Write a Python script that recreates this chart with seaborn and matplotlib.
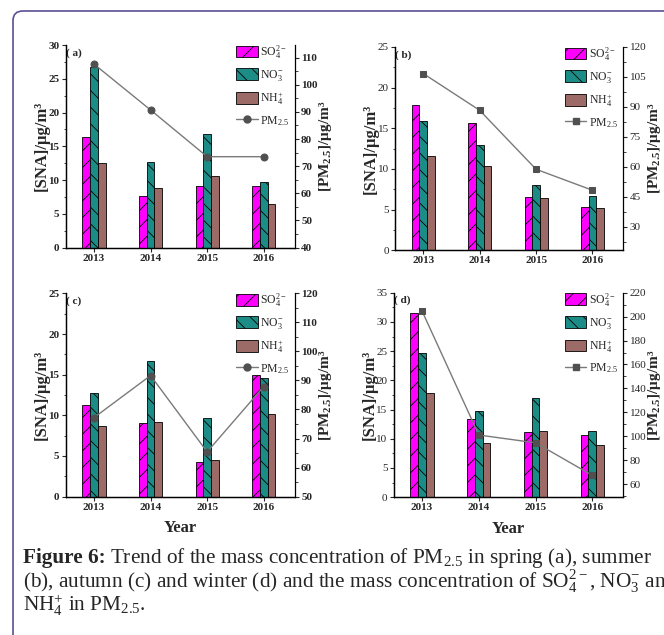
import numpy as np
import pandas as pd
import matplotlib
matplotlib.use("Agg")
import matplotlib.pyplot as plt
import seaborn as sns
from matplotlib.patches import Patch, FancyBboxPatch
from matplotlib.lines import Line2D
from matplotlib.ticker import MultipleLocator

# datos
years = ['2013', '2014', '2015', '2016']
ions = [r'SO$_4^{2-}$', r'NO$_3^{-}$', r'NH$_4^{+}$']
pm_label = r'PM$_{2.5}$'

so4_a = [16.4, 7.7, 9.2, 9.2]
no3_a = [26.8, 12.7, 16.8, 9.7]
nh4_a = [12.6, 8.8, 10.6, 6.5]
pm_a = [107.6, 90.7, 73.5, 73.5]

so4_b = [17.9, 15.6, 6.6, 5.3]
no3_b = [15.9, 13.0, 8.0, 6.7]
nh4_b = [11.6, 10.4, 6.4, 5.2]
pm_b = [106.7, 88.3, 58.8, 48.3]

so4_c = [11.3, 9.1, 4.3, 15.0]
no3_c = [12.8, 16.7, 9.7, 14.6]
nh4_c = [8.7, 9.2, 4.5, 10.2]
pm_c = [77.2, 91.7, 65.4, 87.9]

so4_d = [31.6, 13.4, 11.1, 10.7]
no3_d = [24.6, 14.8, 16.9, 11.3]
nh4_d = [17.9, 9.2, 11.3, 9.0]
pm_d = [204.6, 101.0, 94.5, 67.3]

colors = ['#ff00ff', '#1b8c86', '#9c6b68']
hatches = ['//', '\\\\', '']

sns.set_style('ticks')
plt.rcParams['font.family'] = ['Liberation Serif', 'DejaVu Serif']
plt.rcParams['mathtext.fontset'] = 'custom'
plt.rcParams['mathtext.rm'] = 'Liberation Serif'
plt.rcParams['mathtext.it'] = 'Liberation Serif:italic'
plt.rcParams['mathtext.bf'] = 'Liberation Serif:bold'
plt.rcParams['hatch.linewidth'] = 0.6
plt.rcParams['axes.edgecolor'] = 'black'


def draw_panel(fig, rect, so4, no3, nh4, pm, letter, ylim_l, step_l,
               ylim_r, ticks_r, minor_r, marker, bold_y, xlabel):
    ax = fig.add_axes(rect)
    df = pd.DataFrame({
        'Year': years * 3,
        'SNA': so4 + no3 + nh4,
        'Ion': [ions[0]] * 4 + [ions[1]] * 4 + [ions[2]] * 4,
    })
    sns.barplot(data=df, x='Year', y='SNA', hue='Ion', hue_order=ions,
                palette=colors, saturation=1, width=0.41, edgecolor='black',
                linewidth=0.6, errorbar=None, legend=False, ax=ax)
    for cont, h in zip(ax.containers, hatches):
        for p in cont:
            p.set_hatch(h)
    ax.set_xlim(-0.5, 3.55)
    ax.set_ylim(*ylim_l)
    ax.yaxis.set_major_locator(MultipleLocator(step_l))
    ax.yaxis.set_minor_locator(MultipleLocator(step_l / 2))
    ax.set_xlabel(xlabel, fontsize=12, fontweight='bold', labelpad=6)
    ax.set_ylabel('[SNA]/μg/m³', fontsize=12, fontweight='bold', labelpad=-1)

    ax2 = ax.twinx()
    sns.lineplot(x=np.arange(len(years)), y=pm, ax=ax2, color='#7a7a7a',
                 linewidth=1.0, marker=marker, markersize=5,
                 markerfacecolor='#505050', markeredgecolor='#505050')
    ax2.set_ylim(*ylim_r)
    ax2.set_yticks(ticks_r)
    ax2.yaxis.set_minor_locator(MultipleLocator(minor_r))
    ax2.set_ylabel(r'[PM$_{\mathbf{2.5}}$]/μg/m³', fontsize=11,
                   fontweight='bold', labelpad=-0.5)

    wt = 'bold' if bold_y else 'normal'
    for a in (ax, ax2):
        a.spines['top'].set_visible(False)
        for s in a.spines.values():
            s.set_linewidth(0.9)
        a.tick_params(axis='both', which='major', direction='out', length=3,
                      width=0.8, labelsize=8, pad=1.5)
        a.tick_params(axis='both', which='minor', direction='out', length=1.8,
                      width=0.6)
        for t in a.get_yticklabels():
            t.set_fontweight(wt)
    for t in ax.get_xticklabels():
        t.set_fontweight('bold')
    ax.spines['right'].set_visible(False)

    ax.text(0.0, 0.985, '( ' + letter + ')', transform=ax.transAxes,
            ha='left', va='top', fontsize=8, fontweight='bold')

    handles = [Patch(facecolor=c, edgecolor='black', hatch=h, linewidth=0.6)
               for c, h in zip(colors, hatches)]
    handles.append(Line2D([], [], color='#7a7a7a', linewidth=1.0,
                          marker=marker, markersize=5,
                          markerfacecolor='#505050', markeredgecolor='#505050'))
    ax2.legend(handles, ions + [pm_label], loc='upper right',
               bbox_to_anchor=(0.985, 1.02), frameon=False, fontsize=8.5,
               handlelength=1.8, handleheight=1.15, labelspacing=0.6,
               handletextpad=0.2, borderpad=0.2, borderaxespad=0)
    return ax, ax2


fig = plt.figure(figsize=(6.64, 6.35), dpi=100)

draw_panel(fig, [0.099, 0.610, 0.345, 0.319], so4_a, no3_a, nh4_a, pm_a, 'a',
           (0, 30), 5, (40, 114.6), np.arange(40, 111, 10), 5, 'o', True, '')
draw_panel(fig, [0.595, 0.606, 0.344, 0.320], so4_b, no3_b, nh4_b, pm_b, 'b',
           (0, 25), 5, (18.3, 120), np.arange(30, 121, 15), 7.5, 's', False, '')
draw_panel(fig, [0.099, 0.218, 0.345, 0.320], so4_c, no3_c, nh4_c, pm_c, 'c',
           (0, 25), 5, (50, 120), np.arange(50, 121, 10), 5, 'o', True, 'Year')
draw_panel(fig, [0.593, 0.217, 0.346, 0.322], so4_d, no3_d, nh4_d, pm_d, 'd',
           (0, 35), 5, (49, 220), np.arange(60, 221, 20), 10, 's', False, 'Year')

# marco redondeado
frame = FancyBboxPatch((0.0196, -0.05), 1.1, 1.0327,
                       boxstyle='round,pad=0,rounding_size=0.015',
                       transform=fig.transFigure, fill=False,
                       edgecolor='#5b4f96', linewidth=1.2, zorder=10)
fig.patches.append(frame)

# pie de figura
cap_size = 15.3
x0 = 0.035
t_bold = fig.text(x0, 0.113, 'Figure 6:', fontsize=cap_size, fontweight='bold',
                  va='baseline', ha='left')
renderer = fig.canvas.get_renderer()
bb = t_bold.get_window_extent(renderer=renderer)
x1 = (bb.x1 + 4) / fig.bbox.width
fig.text(x1, 0.113, r'Trend of the mass concentration of PM$_{2.5}$ in spring (a), summer',
         fontsize=cap_size, va='baseline', ha='left')
fig.text(x0, 0.075, r'(b), autumn (c) and winter (d) and the mass concentration of SO$_4^{2-}$, NO$_3^{-}$ and',
         fontsize=cap_size, va='baseline', ha='left')
fig.text(x0, 0.038, r'NH$_4^{+}$ in PM$_{2.5}$.',
         fontsize=cap_size, va='baseline', ha='left')

fig.savefig('out.png', dpi=100)
